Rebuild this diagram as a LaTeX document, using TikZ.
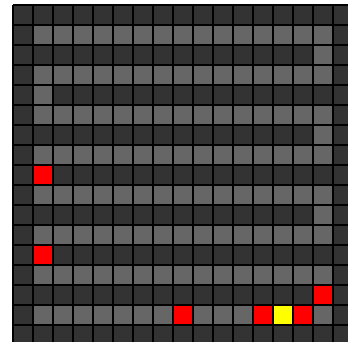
\documentclass[tikz,border=0pt]{standalone}
\definecolor{wallc}{HTML}{333333}
\definecolor{pathc}{HTML}{666666}
\definecolor{hitc}{HTML}{FF0000}
\definecolor{curc}{HTML}{FFFF00}
\begin{document}
\begin{tikzpicture}[x=1pt,y=-1pt,
  gridline/.style={draw=black,line width=1.6pt},
  pathcell/.style={fill=pathc},
  hitcell/.style={fill=hitc},
  curcell/.style={fill=curc}]
\useasboundingbox (0,0) rectangle (348,341);
\fill[white] (0,0) rectangle (348,341);
\clip (0,0) rectangle (348,341);
% walls
\fill[wallc] (13,5) rectangle (353,345);
% gray path rows
\foreach \r in {1,3,5,7,9,11,13}{
  \fill[pathcell] (33,{5+20*\r}) rectangle (333,{25+20*\r});
}
\foreach \r in {2,6,10}{
  \fill[pathcell] (313,{5+20*\r}) rectangle (333,{25+20*\r});
}
\fill[pathcell] (33,85) rectangle (53,105);
% row 15
\fill[pathcell] (33,305) rectangle (333,325);
% red cells
\foreach \c/\r in {1/8,1/12,15/14,8/15,12/15,14/15}{
  \fill[hitcell] ({13+20*\c},{5+20*\r}) rectangle ({33+20*\c},{25+20*\r});
}
\fill[curcell] (273,305) rectangle (293,325);
% grid lines
\foreach \i in {0,...,17}{
  \draw[gridline] ({13+20*\i},5) -- ({13+20*\i},345);
  \draw[gridline] (13,{5+20*\i}) -- (353,{5+20*\i});
}
\end{tikzpicture}
\end{document}
